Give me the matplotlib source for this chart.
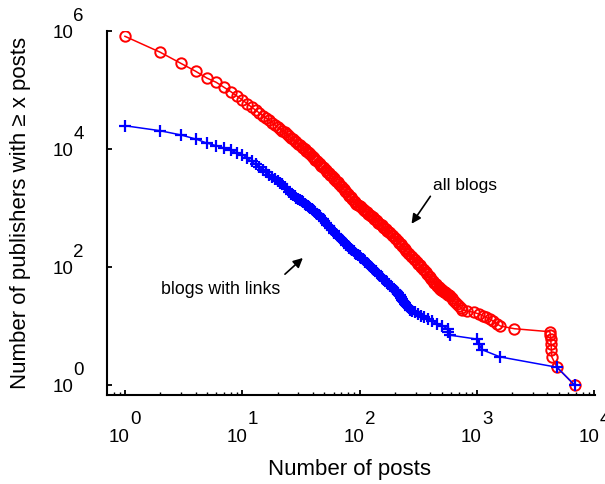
import matplotlib
matplotlib.use("Agg")
import matplotlib.pyplot as plt
from matplotlib.ticker import FixedLocator, LogLocator, NullLocator, NullFormatter
from matplotlib.transforms import offset_copy

# Complementary cumulative counts: publishers with >= x posts
all_x = [1, 2, 3, 4, 5, 6, 7, 8, 9, 10, 11, 12, 13, 14, 15, 16, 17, 18, 19, 20,
         21, 22, 23, 24, 25, 26, 27, 28, 29, 30, 31, 32, 33, 34, 35, 36, 37, 38, 39, 40,
         41, 42, 43, 45, 46, 47, 49, 50, 52, 53, 55, 56, 58, 60, 61, 63, 65, 67, 69, 71,
         73, 75, 77, 79, 82, 84, 87, 89, 92, 94, 97, 100, 103, 106, 109, 112, 115, 119, 122, 126,
         130, 133, 137, 141, 145, 150, 154, 158, 163, 168, 173, 178, 183, 188, 194, 200,
         205, 211, 218, 224, 230, 237, 244, 251, 259, 266, 274, 282, 290, 299, 307, 316,
         325, 335, 345, 355, 365, 376, 387, 398, 410, 422, 434, 447, 460, 473,
         477, 484, 490, 498, 507, 516, 525, 536, 546, 557, 569, 581, 589, 610, 630, 651,
         676, 703, 735, 751, 824, 946, 1042, 1117, 1206, 1302, 1383, 1476, 1585, 2090,
         4200, 4230, 4260, 4290, 4320, 4350, 4820, 6800]
all_y = [813000, 436000, 283000, 208000, 159000, 135000, 111000, 93500, 79000, 68000,
         58600, 51300, 45600, 40800, 36800, 33400, 30500, 28000, 25700, 24000,
         22150, 20540, 19110, 17830, 16690, 15650, 14710, 13810, 13000, 12260,
         11570, 10960, 10390, 9860, 9380, 8930, 8520, 8120, 7710, 7330,
         6990, 6600, 6230, 5885, 5555, 5245, 4953, 4677, 4408, 4148,
         3904, 3674, 3457, 3253, 3062, 2881, 2713, 2552, 2398, 2245,
         2102, 1969, 1843, 1726, 1616, 1514, 1417, 1327, 1246, 1187,
         1130, 1076, 1024, 975, 929, 884, 842, 801, 763, 726,
         692, 658, 626, 594, 564, 535, 508, 483, 458, 435,
         413, 392, 372, 353, 334, 314, 294, 276, 258, 242,
         227, 213, 200, 187, 176, 165, 155, 146, 137, 129,
         121, 114, 107, 100, 94, 88, 82, 77, 71, 67,
         62, 58, 54, 51, 48, 45,
         44, 43, 42, 41, 40, 39, 38, 37, 36, 35, 34, 33, 32, 30, 28, 26,
         24, 22, 20, 19, 18, 17, 16, 15, 14, 13, 12, 11, 10, 9,
         8, 7, 6, 5, 4, 3, 2, 1]

links_x = [1, 2, 3, 4, 5, 6, 7, 8, 9, 10, 11, 12, 13, 14, 15, 16, 17, 18, 19, 20,
           21, 22, 23, 24, 25, 26, 27, 28, 29, 30, 31, 32, 33, 34, 35, 36, 37, 38, 39, 40,
           41, 42, 43, 45, 46, 47, 49, 50, 52, 53, 55, 56, 58, 60, 61, 63, 65, 67, 69, 71,
           73, 75, 77, 79, 82, 84, 87, 89, 92, 94, 97, 100, 103, 106, 109, 112, 115, 119, 122, 126,
           130, 133, 137, 141, 145, 150, 154, 158, 163, 168, 173, 178, 183, 188, 194, 200,
           205, 208, 210, 212, 214, 216, 219, 221, 224, 226, 229, 232, 235, 239, 242, 246,
           249, 254, 258, 262, 267, 279, 295, 312, 332, 354, 380, 416, 459, 509,
           562, 571, 589, 1000, 1047, 1096, 1574, 4820, 6800]
links_y = [24800, 20400, 17300, 14800, 12600, 11400, 10400, 9440, 8710, 8070,
           7030, 6180, 5480, 4910, 4430, 4020, 3670, 3370, 3100, 2880,
           2702, 2546, 2314, 2086, 1889, 1749, 1659, 1577, 1501, 1432,
           1367, 1308, 1252, 1192, 1137, 1086, 1039, 995, 954, 915,
           880, 840, 801, 765, 729, 683, 639, 599, 560, 525,
           491, 460, 431, 404, 381, 360, 340, 321, 303, 286,
           270, 255, 240, 227, 214, 203, 193, 184, 175, 167,
           159, 151, 144, 137, 130, 124, 118, 111, 105, 99,
           94, 89, 84, 79, 75, 71, 67, 63, 60, 57,
           54, 51, 48, 46, 43, 41,
           39, 38, 37, 36, 35, 34, 33, 32, 31, 30, 29, 28, 27, 26, 25, 24,
           23, 22, 21, 20, 19, 18, 17, 16, 15, 14, 13, 12, 11, 10,
           9, 8, 7, 6, 5, 4, 3, 2, 1]

x_decades = [0, 1, 2, 3, 4]
y_decades = [0, 2, 4, 6]

W, H = 605, 485
TICK_FS = 13.5


def power_labels(ax):
    """Draw '10' with a raised exponent next to each major tick."""
    fig = ax.figure
    for k in x_decades:
        base = ax.get_xaxis_transform()
        t10 = offset_copy(base, fig=fig, x=5, y=-46, units="dots")
        texp = offset_copy(base, fig=fig, x=5.5, y=-28, units="dots")
        ax.text(10 ** k, 0, "10", transform=t10, ha="right", va="baseline",
                fontsize=TICK_FS, clip_on=False)
        ax.text(10 ** k, 0, str(k), transform=texp, ha="left", va="baseline",
                fontsize=TICK_FS, clip_on=False)
    for k in y_decades:
        base = ax.get_yaxis_transform()
        t10 = offset_copy(base, fig=fig, x=-34, y=-5.5, units="dots")
        texp = offset_copy(base, fig=fig, x=-33.5, y=11, units="dots")
        ax.text(0, 10 ** k, "10", transform=t10, ha="right", va="baseline",
                fontsize=TICK_FS, clip_on=False)
        ax.text(0, 10 ** k, str(k), transform=texp, ha="left", va="baseline",
                fontsize=TICK_FS, clip_on=False)


def make_plot():
    plt.rcParams["font.family"] = ["Liberation Sans", "DejaVu Sans"]
    fig = plt.figure(figsize=(W / 100, H / 100), dpi=100)
    ax = fig.add_axes([107 / W, (H - 396) / H, (595 - 107) / W, (396 - 32) / H])

    ax.plot(all_x, all_y, color="#ff0000", lw=1.1, marker="o", ms=7.5,
            mfc="none", mec="#ff0000", mew=1.4)
    ax.plot(links_x, links_y, color="#0000ff", lw=1.1, marker="+", ms=8.5,
            mec="#0000ff", mew=1.6)

    ax.set_xscale("log")
    ax.set_yscale("log")
    ax.set_xlim(10 ** -0.153, 10 ** 4.007)
    ax.set_ylim(10 ** -0.169, 10 ** 6)

    for side in ("top", "right"):
        ax.spines[side].set_visible(False)
    for side in ("left", "bottom"):
        ax.spines[side].set_linewidth(1.5)

    ax.yaxis.set_major_locator(FixedLocator([10 ** k for k in y_decades]))
    ax.yaxis.set_minor_locator(NullLocator())
    ax.xaxis.set_major_locator(FixedLocator([10 ** k for k in x_decades]))
    ax.xaxis.set_minor_locator(LogLocator(base=10, subs=range(2, 10), numticks=20))
    ax.xaxis.set_major_formatter(NullFormatter())
    ax.xaxis.set_minor_formatter(NullFormatter())
    ax.yaxis.set_major_formatter(NullFormatter())
    ax.tick_params(which="major", direction="in", length=3.5, width=1.3)
    ax.tick_params(which="minor", direction="in", length=2.0, width=1.0)

    power_labels(ax)

    arrow = dict(arrowstyle="-|>", color="black", lw=1.2, mutation_scale=14)
    ax.annotate("", xy=(269, 495), xytext=(414, 1727), arrowprops=arrow)
    ax.text(792, 2550, "all blogs", ha="center", va="center", fontsize=12.5)
    ax.annotate("", xy=(34.2, 153), xytext=(22.2, 70.3), arrowprops=arrow)
    ax.text(6.58, 44, "blogs with links", ha="center", va="center", fontsize=12.8)

    fig.text(350 / W, 1 - 470 / H, "Number of posts", ha="center", va="center", fontsize=16)
    fig.text(21 / W, 1 - 213 / H, "Number of publishers with \u2265 x posts",
             ha="center", va="center", rotation=90, fontsize=16)

    fig.savefig("out.png", dpi=100)
    plt.close(fig)


if __name__ == "__main__":
    make_plot()
